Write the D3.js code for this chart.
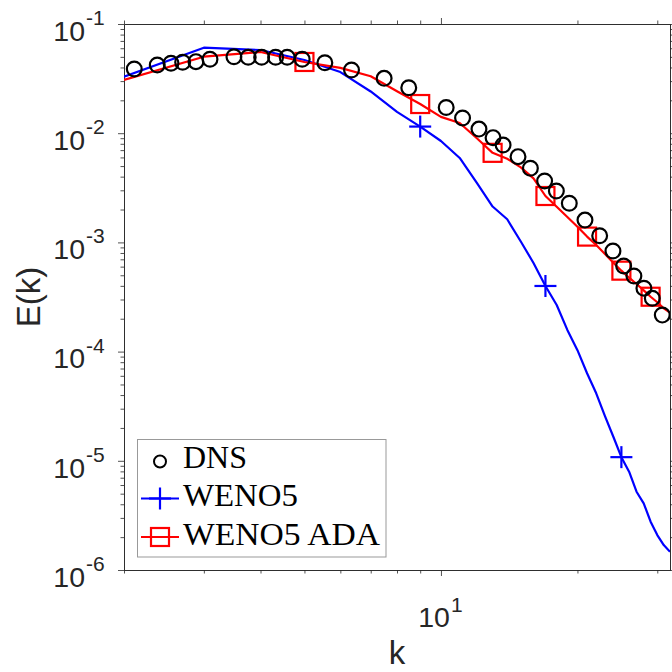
<!DOCTYPE html>
<html>
<head>
<meta charset="utf-8">
<script src="https://cdn.jsdelivr.net/npm/d3@7"></script>
<style>
  html, body { margin: 0; padding: 0; background: #ffffff; }
  svg { display: block; }
</style>
</head>
<body>
<svg id="chart" width="672" height="672"></svg>
<script>
// ---- data ----
const kDNS = [2.107, 2.368, 2.539, 2.694, 2.882, 3.095, 3.495, 3.758, 4.023, 4.319, 4.580, 4.943, 5.546, 6.350, 7.494, 8.492, 10.27, 11.16, 12.13, 13.03, 13.71, 14.79, 15.75, 16.93, 17.97, 19.19, 20.78, 22.39, 23.95, 25.29, 26.64, 28.03, 29.25, 30.77];
const eDNS = [0.0387, 0.0421, 0.0437, 0.0446, 0.0452, 0.0475, 0.0502, 0.0496, 0.0496, 0.0496, 0.0496, 0.0475, 0.0442, 0.0379, 0.0318, 0.0261, 0.0172, 0.0138, 0.0109, 0.0091, 0.0078, 0.0061, 0.00477, 0.00365, 0.00296, 0.00228, 0.00160, 0.00115, 0.000834, 0.000608, 0.000492, 0.000380, 0.000308, 0.000216];
const kLES = [2, 3, 4, 5, 6, 7, 8, 9, 10, 11, 12, 13, 14, 15, 16, 17, 18, 19, 20, 21, 22, 23, 24, 25, 26, 27, 28, 29, 30, 31, 32];
const eWENO5 = [0.0329, 0.0607, 0.0578, 0.0468, 0.0363, 0.0241, 0.0157, 0.0115, 0.00848, 0.00593, 0.00350, 0.00213, 0.00163, 0.00102, 0.000648, 0.000399, 0.000267, 0.000158, 0.000103, 6.33e-5, 4.15e-5, 2.57e-5, 1.66e-5, 1.08e-5, 7.95e-6, 5.21e-6, 4.08e-6, 2.77e-6, 2.09e-6, 1.69e-6, 1.47e-6];
const eADA = [0.0307, 0.0502, 0.0554, 0.0449, 0.0396, 0.0332, 0.0242, 0.0185, 0.0141, 0.0124, 0.00898, 0.00661, 0.00584, 0.00487, 0.00386, 0.00266, 0.00212, 0.00171, 0.00139, 0.00113, 0.000947, 0.000783, 0.000652, 0.000551, 0.000475, 0.000416, 0.000364, 0.000318, 0.000283, 0.000249, 0.000227];
const markKWENO5 = [9, 17, 25];
const markKADA = [5, 9, 13, 17, 21, 25, 29];
const seriesNames = ["DNS", "WENO5", "WENO5 ADA"];
const xMajor = [10];
const xMajorLabels = [["10", "1"]];
const xMinor = [2, 3, 4, 5, 6, 7, 8, 9, 20, 30];
const yMajor = [1e-1, 1e-2, 1e-3, 1e-4, 1e-5, 1e-6];
const yMajorLabels = [["10", "-1"], ["10", "-2"], ["10", "-3"], ["10", "-4"], ["10", "-5"], ["10", "-6"]];
const xLabel = "k";
const yLabel = "E(k)";

// ---- layout ----
const L = 124, R = 670, T = 24, B = 570;
const axisColor = "#262626";
const svg = d3.select("#chart");

const x = d3.scaleLog().domain([2, 32]).range([L, R]);
const y = d3.scaleLog().domain([1e-6, 1e-1]).range([B, T]);

const yMinor = [];
for (let e = -6; e < -1; e++) for (let m = 2; m <= 9; m++) yMinor.push(m * Math.pow(10, e));

// clip
svg.append("defs").append("clipPath").attr("id", "clip")
  .append("rect").attr("x", L).attr("y", T).attr("width", R - L).attr("height", B - T);

// axes (ticks outward, mirrored on top/right)
function styleAxis(g) {
  g.selectAll("path.domain").attr("stroke", axisColor).attr("stroke-width", 0.8);
  g.selectAll(".tick line").attr("stroke", axisColor).attr("stroke-width", 0.8);
  g.selectAll(".tick text").remove();
}
const mk = (gen, tr) => svg.append("g").attr("transform", tr).call(gen).call(styleAxis);
mk(d3.axisBottom(x).tickValues(xMajor).tickSizeInner(6).tickSizeOuter(0).tickFormat(""), `translate(0,${B})`);
mk(d3.axisBottom(x).tickValues(xMinor).tickSizeInner(3.5).tickSizeOuter(0).tickFormat(""), `translate(0,${B})`);
mk(d3.axisTop(x).tickValues(xMajor).tickSizeInner(6).tickSizeOuter(0).tickFormat(""), `translate(0,${T})`);
mk(d3.axisTop(x).tickValues(xMinor).tickSizeInner(3.5).tickSizeOuter(0).tickFormat(""), `translate(0,${T})`);
mk(d3.axisLeft(y).tickValues(yMajor).tickSizeInner(6).tickSizeOuter(0).tickFormat(""), `translate(${L},0)`);
mk(d3.axisLeft(y).tickValues(yMinor).tickSizeInner(3.5).tickSizeOuter(0).tickFormat(""), `translate(${L},0)`);
mk(d3.axisRight(y).tickValues(yMajor).tickSizeInner(6).tickSizeOuter(0).tickFormat(""), `translate(${R},0)`);
mk(d3.axisRight(y).tickValues(yMinor).tickSizeInner(3.5).tickSizeOuter(0).tickFormat(""), `translate(${R},0)`);

// tick labels with superscripts
const tickFont = "'Liberation Sans', Arial, Helvetica, sans-serif";
yMajor.forEach((v, i) => {
  const yy = y(v);
  svg.append("text").attr("x", 85).attr("y", yy + 16.7).attr("text-anchor", "end")
    .attr("font-family", tickFont).attr("font-size", 28.5).attr("fill", axisColor).text(yMajorLabels[i][0]);
  svg.append("text").attr("x", 86).attr("y", yy + 1).attr("text-anchor", "start")
    .attr("font-family", tickFont).attr("font-size", 21).attr("fill", axisColor).text(yMajorLabels[i][1]);
});
xMajor.forEach((v, i) => {
  const xx = x(v);
  svg.append("text").attr("x", xx + 9).attr("y", B + 57).attr("text-anchor", "end")
    .attr("font-family", tickFont).attr("font-size", 28.5).attr("fill", axisColor).text(xMajorLabels[i][0]);
  svg.append("text").attr("x", xx + 10).attr("y", B + 42).attr("text-anchor", "start")
    .attr("font-family", tickFont).attr("font-size", 21).attr("fill", axisColor).text(xMajorLabels[i][1]);
});

// axis labels
svg.append("text").attr("x", (L + R) / 2).attr("y", 664).attr("text-anchor", "middle")
  .attr("font-family", tickFont).attr("font-size", 33).attr("fill", axisColor).text(xLabel);
svg.append("text").attr("transform", `translate(39.5,${(T + B) / 2}) rotate(-90)`).attr("text-anchor", "middle")
  .attr("font-family", tickFont).attr("font-size", 33).attr("fill", axisColor).text(yLabel);

// series
const plot = svg.append("g").attr("clip-path", "url(#clip)");
const line = d3.line().x(d => x(d[0])).y(d => y(d[1]));
const wenoPts = kLES.map((k, i) => [k, eWENO5[i]]);
const adaPts = kLES.map((k, i) => [k, eADA[i]]);
const dnsPts = kDNS.map((k, i) => [k, eDNS[i]]);

plot.append("path").datum(wenoPts).attr("d", line).attr("fill", "none")
  .attr("stroke", "#0000ff").attr("stroke-width", 2.2).attr("stroke-linejoin", "round");
plot.append("path").datum(adaPts).attr("d", line).attr("fill", "none")
  .attr("stroke", "#ff0000").attr("stroke-width", 2.2).attr("stroke-linejoin", "round");

const plusSize = 11, sqHalf = 9;
function drawPlus(g, cx, cy, s, color) {
  g.append("line").attr("x1", cx - s).attr("x2", cx + s).attr("y1", cy).attr("y2", cy)
    .attr("stroke", color).attr("stroke-width", 2.2);
  g.append("line").attr("x1", cx).attr("x2", cx).attr("y1", cy - s).attr("y2", cy + s)
    .attr("stroke", color).attr("stroke-width", 2.2);
}
wenoPts.filter(d => markKWENO5.includes(d[0])).forEach(d => drawPlus(plot, x(d[0]), y(d[1]), plusSize, "#0000ff"));
plot.selectAll("rect.sq").data(adaPts.filter(d => markKADA.includes(d[0]))).enter().append("rect")
  .attr("class", "sq").attr("x", d => x(d[0]) - sqHalf).attr("y", d => y(d[1]) - sqHalf)
  .attr("width", 2 * sqHalf).attr("height", 2 * sqHalf)
  .attr("fill", "none").attr("stroke", "#ff0000").attr("stroke-width", 2.2);

plot.selectAll("circle.dns").data(dnsPts).enter().append("circle").attr("class", "dns")
  .attr("cx", d => x(d[0])).attr("cy", d => y(d[1])).attr("r", 7.4)
  .attr("fill", "none").attr("stroke", "#000000").attr("stroke-width", 2.2);

// legend
const lg = svg.append("g");
lg.append("rect").attr("x", 137.5).attr("y", 439.5).attr("width", 248.5).attr("height", 117.5)
  .attr("fill", "#ffffff").attr("stroke", "#999999").attr("stroke-width", 1);
const serif = "'Liberation Serif', 'Times New Roman', serif";
const rowsY = [467.7, 506, 545];
const textLens = [64, 115, 197];
seriesNames.forEach((name, i) => {
  lg.append("text").attr("x", 183).attr("y", rowsY[i]).attr("font-family", serif).attr("font-size", 31)
    .attr("fill", "#000").attr("textLength", textLens[i]).attr("lengthAdjust", "spacingAndGlyphs").text(name);
});
lg.append("circle").attr("cx", 160).attr("cy", 461.5).attr("r", 6)
  .attr("fill", "none").attr("stroke", "#000").attr("stroke-width", 2);
lg.append("line").attr("x1", 141).attr("x2", 179).attr("y1", 498.5).attr("y2", 498.5)
  .attr("stroke", "#0000ff").attr("stroke-width", 2.2);
drawPlus(lg, 160, 498.5, 11, "#0000ff");
lg.append("line").attr("x1", 141).attr("x2", 179).attr("y1", 537).attr("y2", 537)
  .attr("stroke", "#ff0000").attr("stroke-width", 2.2);
lg.append("rect").attr("x", 151).attr("y", 528).attr("width", 18).attr("height", 18)
  .attr("fill", "none").attr("stroke", "#ff0000").attr("stroke-width", 2.2);
</script>
</body>
</html>
